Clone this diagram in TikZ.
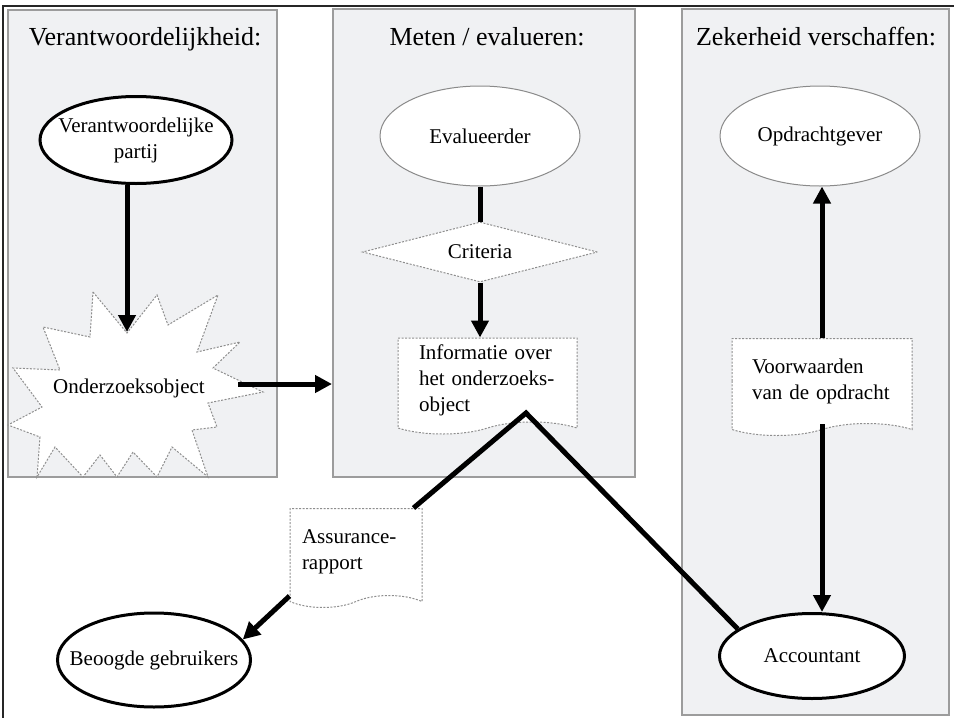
\documentclass[tikz,border=0pt]{standalone}
\usepackage{fontspec}
\setmainfont{Liberation Serif}
\usetikzlibrary{shapes.geometric, shapes.symbols, arrows.meta}
\tikzset{
  panel/.style={
    draw=panelgrey,
    line width=2pt,
    fill=panelfill,
    inner sep=0pt},
  paneltitle/.style={
    anchor=base,
    font=\fontsize{26}{30}\selectfont},
  boldparty/.style={
    ellipse,
    draw=black,
    line width=3pt,
    fill=white,
    align=center,
    inner xsep=-20pt,
    inner ysep=0pt},
  thinparty/.style={
    ellipse,
    draw=edgegrey,
    line width=1pt,
    fill=white,
    inner xsep=-20pt,
    inner ysep=0pt},
  paperdoc/.style={
    shape=tape,
    draw=dashgrey,
    line width=1pt,
    dash pattern=on 2pt off 1.5pt,
    fill=white,
    tape bend top=none,
    tape bend height=12pt,
    align=left,
    inner xsep=0pt},
  criterion/.style={
    diamond,
    draw=dashgrey,
    line width=1pt,
    dash pattern=on 2pt off 1.5pt,
    fill=white,
    aspect=3.9,
    inner sep=0pt},
  flowline/.style={
    draw=black,
    line width=5pt},
  flowarrow/.style={
    flowline,
    -{Triangle[length=17pt,width=17pt]}}
}

\begin{document}
\begin{tikzpicture}[x=1pt, y=-1pt, font=\fontsize{21}{26}\selectfont]
  \definecolor{panelfill}{RGB}{240, 241, 243}
  \definecolor{panelgrey}{RGB}{156, 156, 156}
  \definecolor{dashgrey}{RGB}{142, 142, 142}
  \definecolor{edgegrey}{RGB}{138, 138, 138}

  \useasboundingbox (0,0) rectangle (954,718);

  % Outer frame
  \draw[line width=2.5pt, black!85] (3,718) -- (3,6) -- (954,6);

  % Panels
  \node (respzone) [panel, minimum width=269pt, minimum height=467pt] at (142.5,243.5) {};
  \node (measurezone) [panel, minimum width=302pt, minimum height=468pt] at (484,243) {};
  \node (assurezone) [panel, minimum width=267pt, minimum height=706pt] at (815.5,362) {};

  \node (resptitle) [paneltitle] at (145,45) {Verantwoordelijkheid:};
  \node (measuretitle) [paneltitle] at (487,45) {Meten / evalueren:};
  \node (assuretitle) [paneltitle] at (816,45) {Zekerheid verschaffen:};

  % Onderzoeksobject
  \draw[dashgrey, line width=1pt, dash pattern=on 2pt off 1.5pt, fill=white]
    (93,292) -- (127,333) -- (157,295) -- (168,325) -- (218,295) -- (197,352)
    -- (240,342) -- (213,368) -- (263,392) -- (208,403) -- (217,427) -- (192,430)
    -- (208,477) -- (172,447) -- (157,477) -- (133,452) -- (117,477) -- (100,455)
    -- (83,477) -- (55,447) -- (37,477) -- (40,437) -- (8,425) -- (42,407)
    -- (13,368) -- (60,370) -- (43,327) -- (90,337) -- cycle;
  \coordinate (startop) at (127,332);
  \coordinate (starright) at (238,384);
  \node (object) at (129,388) {Onderzoeksobject};

  % Parties
  \node (partij) [boldparty, minimum width=192pt, minimum height=87pt] at (136,140) {Verantwoordelijke\\partij};
  \node (evaluator) [thinparty, minimum width=200pt, minimum height=100pt] at (480,136) {Evalueerder};
  \node (client) [thinparty, minimum width=200pt, minimum height=100pt] at (820,136) {Opdrachtgever};
  \node (users) [boldparty, minimum width=193pt, minimum height=94pt] at (154,660) {Beoogde gebruikers};
  \node (accountant) [boldparty, minimum width=185pt, minimum height=85pt] at (812,656) {Accountant};

  % Criteria and documents
  \node (criteria) [criterion, minimum width=235pt, minimum height=60pt] at (480,252) {Criteria};
  \node (info) [paperdoc, minimum width=179pt, minimum height=96pt, text width=137pt] at (487.5,380) {Informatie over\\het onderzoeks-\\object};
  \node (rapport) [paperdoc, minimum width=132pt, minimum height=99pt, text width=108pt] at (356,552) {Assurance-\\rapport};
  \node (terms) [paperdoc, minimum width=180pt, minimum height=97pt, text width=140pt] at (822,381) {Voorwaarden\\van de opdracht};

  % Connectors
  \draw[flowarrow] (partij.south -| startop) -- (startop);
  \draw[flowarrow] (starright) -- (starright -| measurezone.west);
  \draw[flowline] (evaluator.south) -- (criteria.north);
  \draw[flowarrow] (criteria.south) -- (criteria.south |- info.north);

  \coordinate (split) at (526,413);
  \draw[flowline] ([xshift=-9pt]rapport.north east) -- (split) -- (accountant.160);
  \draw[flowarrow] (rapport.south west) -- (users.13);

  \draw[flowarrow] (terms.north) -- (terms.north |- client.south);
  \draw[flowarrow] (terms.south) -- (terms.south |- accountant.north);
\end{tikzpicture}
\end{document}
